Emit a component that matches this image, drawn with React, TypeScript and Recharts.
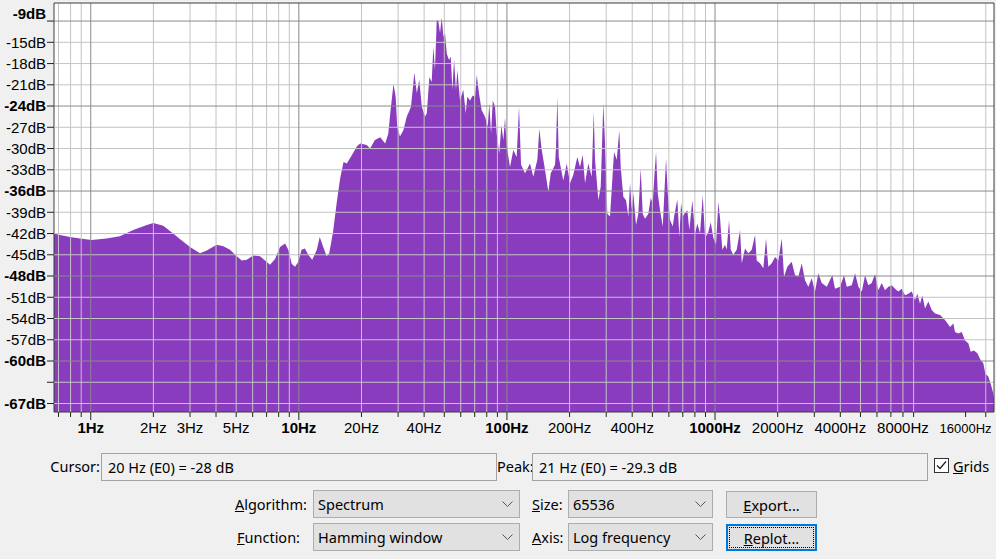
import React from 'react';
import { AreaChart, Area, XAxis, YAxis, CartesianGrid, ReferenceLine } from 'recharts';

// Spectrum (frequency in Hz, level in dB)
const FREQ_HZ = [
  0.666, 0.712, 0.795, 0.888, 1.01, 1.19, 1.38, 1.6, 1.86, 2.0, 2.23, 2.49, 2.69, 3.0, 3.35, 3.61, 4.03, 4.34, 4.67, 4.94,
  5.32, 5.62, 6.04, 6.51, 6.88, 7.27, 7.69, 8.12, 8.59, 8.9, 9.25, 9.59, 9.95, 10.3, 10.7, 11.1, 11.6, 12.2, 12.6, 13.1,
  13.6, 14.0, 14.6, 15.2, 15.8, 16.4, 17.0, 18.0, 19.0, 19.7, 21.2, 22.0, 23.2, 24.6, 26.0, 26.9, 27.6, 28.5, 29.2, 29.7,
  30.6, 31.8, 33.0, 34.6, 35.9, 36.9, 37.9, 39.0, 40.4, 41.2, 42.4, 43.5, 44.3, 45.1, 46.0, 46.8, 47.7, 48.6, 49.5, 50.4,
  51.4, 52.7, 53.7, 54.7, 55.7, 56.9, 57.8, 59.5, 61.7, 63.4, 64.5, 66.5, 68.5, 70.3, 71.6, 73.4, 75.6, 78.5, 80.9, 82.3,
  83.9, 85.5, 87.7, 89.3, 91.9, 94.0, 96.1, 97.9, 99.8, 103.5, 107.3, 111.4, 114.3, 116.9, 122.2, 129.1, 133.9, 140.0, 143.1, 147.0,
  152.4, 158.1, 162.4, 170.3, 172.2, 174.7, 177.4, 186.6, 193.8, 201.0, 208.5, 217.9, 224.5, 231.3, 237.3, 246.1, 255.5, 261.3, 265.1, 275.0,
  282.3, 290.5, 296.1, 303.7, 312.9, 327.1, 337.0, 346.8, 352.2, 362.5, 373.5, 383.2, 390.4, 397.8, 405.0, 417.2, 428.0, 439.5, 449.3, 460.9,
  478.1, 490.9, 502.0, 510.9, 520.7, 530.6, 544.2, 560.8, 570.8, 581.6, 592.7, 608.0, 626.4, 637.6, 659.1, 673.9, 686.7, 699.7, 712.2, 736.2,
  752.6, 778.0, 801.6, 822.2, 847.1, 872.9, 895.5, 928.6, 953.6, 981.3, 1011, 1037, 1057, 1084, 1117, 1138, 1168, 1190, 1224, 1271,
  1319, 1344, 1394, 1445, 1501, 1557, 1586, 1645, 1707, 1758, 1804, 1873, 1943, 2015, 2092, 2146, 2226, 2336, 2424, 2514,
  2610, 2707, 2808, 2915, 3024, 3136, 3256, 3441, 3662, 3772, 3988, 4168, 4295, 4539, 4709, 4884, 5071, 5260, 5455, 5663,
  5874, 6092, 6324, 6559, 6803, 7065, 7328, 7600, 7893, 8185, 8490, 8815, 9143, 9378, 9663, 9912, 10210, 10590, 11000, 11410,
  12060, 12740, 13470, 13970, 14230, 14760, 15330, 15900, 16490, 16930, 17570, 18220, 18910, 19470, 19900, 20570, 21120, 21740, 21907,
];

const LEVEL_DB = [
  -42.0, -42.2, -42.5, -42.7, -42.9, -42.7, -42.4, -41.5, -40.8, -40.5, -40.9, -42.0, -42.8, -43.9, -44.8, -44.4, -43.6, -43.8, -44.3, -45.0,
  -45.8, -45.7, -45.1, -45.2, -45.8, -46.4, -45.6, -43.9, -43.4, -44.3, -46.3, -46.7, -46.0, -44.3, -44.1, -45.0, -45.7, -44.3, -42.5, -43.9,
  -45.2, -44.8, -41.8, -37.7, -34.2, -31.9, -32.1, -30.9, -29.7, -29.3, -29.5, -30.0, -28.8, -28.4, -29.3, -27.9, -24.6, -20.9, -22.7, -26.9,
  -28.3, -27.4, -25.5, -24.1, -19.3, -22.2, -20.3, -24.1, -25.5, -25.0, -19.9, -20.6, -15.6, -18.9, -11.9, -12.0, -13.7, -11.5, -14.2, -13.7,
  -16.6, -17.5, -17.0, -21.7, -17.5, -21.7, -18.9, -23.2, -21.7, -25.0, -22.7, -23.2, -22.5, -22.7, -19.6, -22.2, -24.6, -25.5, -26.9, -23.6,
  -27.9, -23.2, -24.1, -27.9, -30.7, -26.7, -28.8, -25.7, -29.8, -32.6, -30.2, -31.2, -24.1, -32.3, -33.5, -32.1, -34.0, -31.6, -27.2, -30.2,
  -33.0, -36.1, -33.5, -32.3, -29.7, -22.7, -31.2, -34.5, -32.1, -34.9, -33.7, -31.2, -32.6, -30.9, -34.9, -32.1, -34.0, -24.8, -31.6, -37.3,
  -35.4, -23.6, -29.3, -39.2, -39.6, -30.5, -31.6, -27.4, -32.6, -36.8, -37.3, -39.6, -34.9, -38.5, -36.3, -40.8, -39.2, -32.8, -39.2, -39.9,
  -39.2, -37.0, -37.7, -34.0, -30.5, -36.3, -38.7, -41.0, -36.3, -31.4, -36.3, -40.1, -41.0, -39.4, -37.2, -42.5, -37.7, -39.6, -39.2, -38.7,
  -41.5, -37.3, -42.0, -40.6, -42.0, -36.6, -42.6, -41.8, -40.4, -42.6, -43.6, -37.6, -39.8, -44.3, -43.6, -44.3, -40.1, -44.3, -45.0, -44.3,
  -41.5, -46.2, -44.1, -44.8, -44.3, -42.2, -45.8, -46.2, -46.9, -42.7, -46.7, -46.2, -45.3, -45.8, -42.7, -48.1, -46.7, -46.0, -47.9, -48.1,
  -46.2, -48.6, -49.5, -48.3, -50.2, -47.6, -49.0, -49.5, -47.9, -49.8, -49.5, -47.9, -49.5, -49.3, -47.6, -49.5, -50.2, -47.9, -49.3, -49.0,
  -47.7, -50.0, -49.0, -50.0, -49.5, -49.3, -49.8, -50.2, -49.8, -50.7, -50.5, -50.2, -51.4, -50.5, -51.9, -50.7, -52.6, -51.6, -52.8, -53.3,
  -53.5, -54.2, -55.2, -54.7, -55.9, -56.1, -55.9, -57.1, -57.5, -58.7, -58.5, -58.9, -59.9, -60.3, -61.8, -62.2, -63.2, -64.6, -65.3,
];

const FREQ_MIN = 0.666;
const FREQ_MAX = 21907;
const DB_MIN = -67.2;
const DB_MAX = -9.45;

const X_TICKS = [
  0.7, 0.8, 0.9, 1, 2, 3, 4, 5, 6, 7, 8, 9, 10, 20, 30, 40, 50, 60, 70, 80, 90,
  100, 200, 300, 400, 500, 600, 700, 800, 900, 1000, 2000, 3000, 4000, 5000, 6000, 7000, 8000, 9000, 16000, 20000,
];
const X_MAJOR = [1, 10, 100, 1000];
const X_LABELLED = [1, 2, 3, 5, 10, 20, 40, 100, 200, 400, 1000, 2000, 4000, 8000, 16000];
const X_SMALL_LABEL = [16000];
const X_GRID = [
  0.7, 0.8, 0.9, 2, 3, 4, 5, 6, 7, 8, 9, 20, 30, 40, 50, 60, 70, 80, 90,
  200, 300, 400, 500, 600, 700, 800, 900, 2000, 3000, 4000, 5000, 6000, 7000, 8000, 9000, 20000,
];

const Y_GRID = [-15, -18, -21, -27, -30, -33, -39, -42, -45, -51, -54, -57, -63, -66];
const Y_MAJOR = [-12, -24, -36, -48, -60];
const Y_UNLABELLED = [-12, -63, -66];
const Y_TOP_LABEL = '-9dB';
const Y_BOTTOM_LABEL = '-67dB';
const Y_TICKS = [DB_MAX, -12, -15, -18, -21, -24, -27, -30, -33, -36, -39, -42, -45, -48, -51, -54, -57, -60, -63, -66, DB_MIN];

const data = FREQ_HZ.map((f, i) => ({ f, db: LEVEL_DB[i] }));

const AXIS_FONT = '"Liberation Sans", Arial, sans-serif';
const UI_FONT = '"Noto Sans", "Open Sans", sans-serif';
const FILL = '#8a3cbe';
const MINOR = '#c4c4c4';
const MAJOR = '#8a8a8a';
const FRAME = '#3c3c3c';

const XTick = (props: any) => {
  const { x, y, payload } = props;
  const v = payload.value;
  const major = X_MAJOR.includes(v);
  const labelled = X_LABELLED.includes(v);
  return (
    <g>
      <line x1={x} x2={x} y1={y} y2={y + (major ? 8 : 5)} stroke="#222" />
      {labelled && (
        <text
          x={x}
          y={y + 16}
          dy="0.35em"
          textAnchor="middle"
          fontFamily={AXIS_FONT}
          fontSize={X_SMALL_LABEL.includes(v) ? 13 : 15}
          fontWeight={major ? 'bold' : 'normal'}
          fill="#000"
        >
          {`${v}Hz`}
        </text>
      )}
    </g>
  );
};

const YTick = (props: any) => {
  const { x, y, payload } = props;
  const v = payload.value;
  const isTop = v === DB_MAX;
  const isBottom = v === DB_MIN;
  const major = Y_MAJOR.includes(v);
  let label: string | null = null;
  let bold = major;
  let ty = y;
  if (isTop) {
    label = Y_TOP_LABEL;
    bold = true;
    ty = y + 11;
  } else if (isBottom) {
    label = Y_BOTTOM_LABEL;
    bold = true;
    ty = y - 8;
  } else if (!Y_UNLABELLED.includes(v)) {
    label = `${v}dB`;
  }
  return (
    <g>
      {!isTop && !isBottom && <line x1={x - 7} x2={x} y1={y} y2={y} stroke="#222" />}
      {label && (
        <text
          x={x - 8}
          y={ty}
          dy="0.35em"
          textAnchor="end"
          fontFamily={AXIS_FONT}
          fontSize={15}
          fontWeight={bold ? 'bold' : 'normal'}
          fill="#000"
        >
          {label}
        </text>
      )}
    </g>
  );
};

const Chevron = ({ left, top }: { left: number; top: number }) => (
  <svg style={{ position: 'absolute', left, top }} width={11} height={7}>
    <polyline points="0.5,0.5 5.5,5.5 10.5,0.5" fill="none" stroke="#555" strokeWidth={1} />
  </svg>
);

const text: React.CSSProperties = {
  position: 'absolute',
  fontFamily: UI_FONT,
  fontSize: 14.5,
  color: '#000',
  whiteSpace: 'nowrap',
  lineHeight: '20px',
};

const Label = ({ left, top, width, align, children }: any) => (
  <div style={{ ...text, left, top, width, textAlign: align || 'left' }}>{children}</div>
);

const Select = ({ left, top, width, value }: any) => (
  <div
    style={{
      position: 'absolute',
      left,
      top,
      width,
      height: 28,
      boxSizing: 'border-box',
      background: '#e1e1e1',
      border: '1px solid #adadad',
    }}
  >
    <div style={{ ...text, left: 4, top: 3 }}>{value}</div>
    <Chevron left={width - 19} top={10} />
  </div>
);

const Button = ({ left, top, children, focused }: any) => (
  <div
    style={{
      position: 'absolute',
      left,
      top,
      width: 91,
      height: 27,
      boxSizing: 'border-box',
      background: '#e1e1e1',
      border: focused ? '2px solid #0078d7' : '1px solid #adadad',
    }}
  >
    {focused && (
      <div
        style={{
          position: 'absolute',
          left: 1,
          top: 1,
          right: 1,
          bottom: 1,
          border: '1px dotted #000',
        }}
      />
    )}
    <div style={{ ...text, left: 0, right: 0, top: focused ? 1.5 : 2.5, textAlign: 'center' }}>{children}</div>
  </div>
);

const u = (s: string) => <span style={{ textDecoration: 'underline' }}>{s}</span>;

export default function App() {
  return (
    <div
      style={{
        position: 'absolute',
        left: 0,
        top: 0,
        width: 996,
        height: 559,
        background: '#f0f0f0',
        overflow: 'hidden',
      }}
    >
      <div style={{ position: 'absolute', left: 0, top: 0 }}>
        <AreaChart width={996} height={440} data={data} margin={{ top: 3, right: 2, bottom: 0, left: 0 }}>
          <CartesianGrid fill="#ffffff" horizontal={false} vertical={false} stroke="none" />
          <XAxis
            dataKey="f"
            type="number"
            scale="log"
            domain={[FREQ_MIN, FREQ_MAX]}
            allowDataOverflow
            ticks={X_TICKS}
            interval={0}
            tick={<XTick />}
            tickLine={false}
            tickSize={0}
            tickMargin={0}
            height={28}
            axisLine={{ stroke: FRAME }}
          />
          <YAxis
            type="number"
            domain={[DB_MIN, DB_MAX]}
            allowDataOverflow
            ticks={Y_TICKS}
            interval={0}
            tick={<YTick />}
            tickLine={false}
            tickSize={0}
            tickMargin={0}
            width={54}
            axisLine={{ stroke: FRAME }}
          />
          <Area
            dataKey="db"
            type="linear"
            stroke="none"
            fill={FILL}
            fillOpacity={1}
            baseValue="dataMin"
            isAnimationActive={false}
            dot={false}
            activeDot={false}
          />
          {Y_GRID.map((v) => (
            <ReferenceLine key={`hy${v}`} y={v} stroke={MINOR} strokeWidth={1} zIndex={600} />
          ))}
          {X_GRID.map((v) => (
            <ReferenceLine key={`vx${v}`} x={v} stroke={MINOR} strokeWidth={1} zIndex={600} />
          ))}
          {Y_MAJOR.map((v) => (
            <ReferenceLine key={`my${v}`} y={v} stroke={MAJOR} strokeWidth={1} zIndex={601} />
          ))}
          {X_MAJOR.map((v) => (
            <ReferenceLine key={`mx${v}`} x={v} stroke={MAJOR} strokeWidth={1} zIndex={601} />
          ))}
          <ReferenceLine y={DB_MAX} stroke={FRAME} strokeWidth={1} zIndex={602} />
          <ReferenceLine x={FREQ_MAX} stroke={FRAME} strokeWidth={1} zIndex={602} />
        </AreaChart>
      </div>

      {/* Cursor / Peak row */}
      <Label left={40} top={456} width={60} align="right">Cursor:</Label>
      <div
        style={{
          position: 'absolute',
          left: 101,
          top: 453,
          width: 396,
          height: 28,
          boxSizing: 'border-box',
          border: '1px solid #a3a3a3',
          background: '#f0f0f0',
        }}
      >
        <div style={{ ...text, left: 6, top: 3 }}>20 Hz (E0) = -28 dB</div>
      </div>
      <Label left={497} top={456}>Peak:</Label>
      <div
        style={{
          position: 'absolute',
          left: 532,
          top: 453,
          width: 396,
          height: 28,
          boxSizing: 'border-box',
          border: '1px solid #a3a3a3',
          background: '#f0f0f0',
        }}
      >
        <div style={{ ...text, left: 6, top: 3 }}>21 Hz (E0) = -29.3 dB</div>
      </div>
      <svg style={{ position: 'absolute', left: 934, top: 458 }} width={16} height={16}>
        <rect x={0.5} y={0.5} width={14} height={14} fill="#ffffff" stroke="#333" />
        <polyline points="3,7.5 6,10.5 12,3.5" fill="none" stroke="#222" strokeWidth={1.3} />
      </svg>
      <Label left={953} top={456}>{u('G')}rids</Label>

      {/* Algorithm / Size / Export */}
      <Label left={220} top={494} width={87} align="right">{u('A')}lgorithm:</Label>
      <Select left={313} top={490} width={207} value="Spectrum" />
      <Label left={532} top={494}>{u('S')}ize:</Label>
      <Select left={568} top={490} width={145} value="65536" />
      <Button left={726} top={491}>{u('E')}xport...</Button>

      {/* Function / Axis / Replot */}
      <Label left={220} top={527} width={80} align="right">{u('F')}unction:</Label>
      <Select left={313} top={523} width={207} value="Hamming window" />
      <Label left={532} top={527}>{u('A')}xis:</Label>
      <Select left={568} top={523} width={145} value="Log frequency" />
      <Button left={726} top={524} focused>{u('R')}eplot...</Button>
    </div>
  );
}
